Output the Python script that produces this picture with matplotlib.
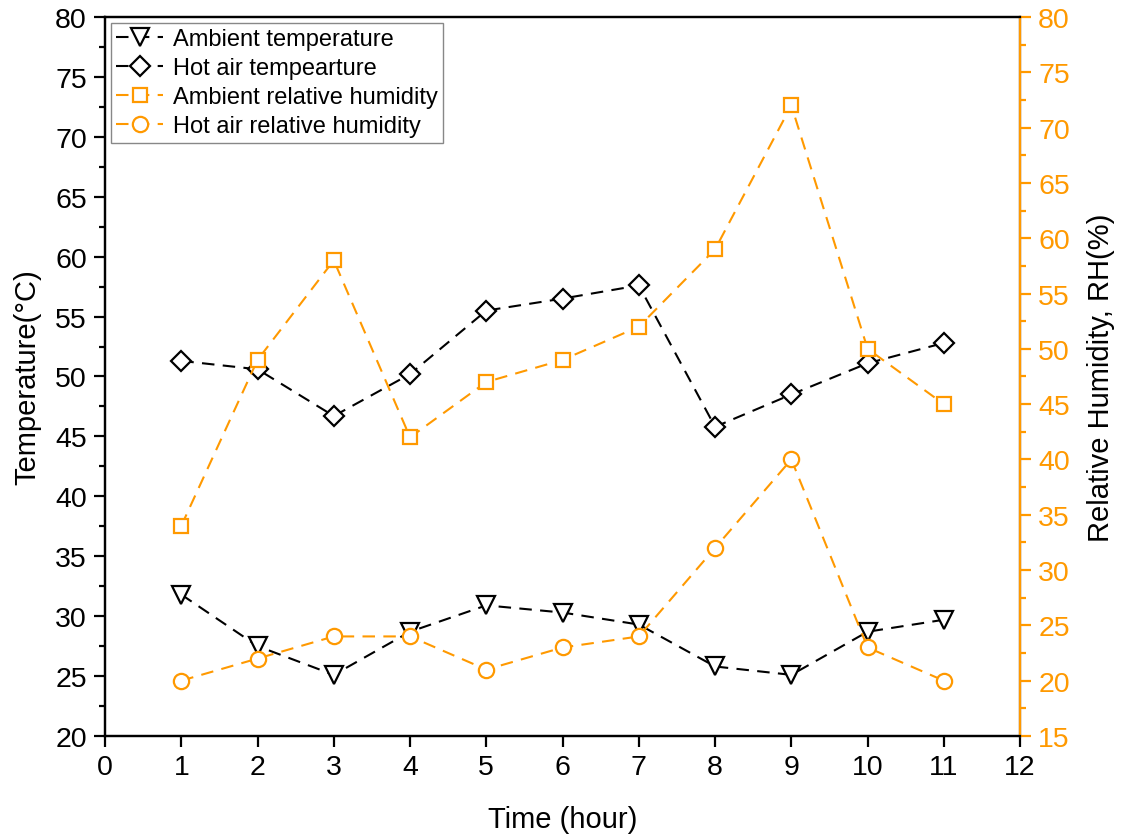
import matplotlib
matplotlib.use("Agg")
import matplotlib.pyplot as plt
from matplotlib.ticker import MultipleLocator

plt.rcParams['font.family'] = ['Liberation Sans', 'DejaVu Sans']

hours = [1, 2, 3, 4, 5, 6, 7, 8, 9, 10, 11]
ambient_temp = [31.8, 27.5, 25.1, 28.7, 30.9, 30.3, 29.3, 25.8, 25.1, 28.7, 29.7]
hot_air_temp = [51.3, 50.6, 46.7, 50.2, 55.5, 56.5, 57.6, 45.8, 48.5, 51.1, 52.8]
ambient_rh = [34, 49, 58, 42, 47, 49, 52, 59, 72, 50, 45]
hot_air_rh = [20, 22, 24, 24, 21, 23, 24, 32, 40, 23, 20]

ORANGE = '#FF9900'
BLACK = '#000000'

fig = plt.figure(figsize=(11.21, 8.37), dpi=100)
ax = fig.add_axes([0.0937, 0.1195, 0.8163, 0.859])
ax2 = ax.twinx()

dash = (6, 4)
l1, = ax.plot(hours, ambient_temp, color=BLACK, lw=1.5, dashes=dash, marker='v',
              ms=13, mfc='white', mec=BLACK, mew=1.6, label='Ambient temperature')
l2, = ax.plot(hours, hot_air_temp, color=BLACK, lw=1.5, dashes=dash, marker='D',
              ms=10, mfc='white', mec=BLACK, mew=1.6, label='Hot air tempearture')
l3, = ax2.plot(hours, ambient_rh, color=ORANGE, lw=1.5, dashes=dash, marker='s',
               ms=10.5, mfc='white', mec=ORANGE, mew=1.6, label='Ambient relative humidity')
l4, = ax2.plot(hours, hot_air_rh, color=ORANGE, lw=1.5, dashes=dash, marker='o',
               ms=11, mfc='white', mec=ORANGE, mew=1.6, label='Hot air relative humidity')

ax.set_xlim(0, 12)
ax.set_ylim(20, 80)
ax2.set_ylim(15, 80)
ax.xaxis.set_major_locator(MultipleLocator(1))
ax.yaxis.set_major_locator(MultipleLocator(5))
ax.yaxis.set_minor_locator(MultipleLocator(2.5))
ax2.yaxis.set_major_locator(MultipleLocator(5))
ax2.yaxis.set_minor_locator(MultipleLocator(2.5))

for a in (ax, ax2):
    for s in a.spines.values():
        s.set_linewidth(1.6)
        s.set_color(BLACK)
ax2.spines['right'].set_color(ORANGE)

ax.tick_params(axis='both', which='major', direction='out', length=8, width=1.6,
               labelsize=20.5, colors=BLACK, pad=5)
ax.tick_params(axis='y', which='minor', direction='out', length=4.5, width=1.6, colors=BLACK)
ax.tick_params(axis='x', top=False)
ax2.tick_params(axis='y', which='major', direction='out', length=8, width=1.6,
                labelsize=20.5, colors=ORANGE, pad=5)
ax2.tick_params(axis='y', which='minor', direction='out', length=4.5, width=1.6, colors=ORANGE)

ax.set_xlabel('Time (hour)', fontsize=21, labelpad=18)
ax.set_ylabel('Temperature(°C)', fontsize=21, labelpad=10)
ax2.set_ylabel('Relative Humidity, RH(%)', fontsize=21, labelpad=12, color=BLACK)

leg = ax.legend(handles=[l1, l2, l3, l4], loc='upper left', fontsize=17,
                frameon=True, fancybox=False, edgecolor='#888888', framealpha=1,
                handlelength=2.0, handletextpad=0.4, borderpad=0.22,
                labelspacing=0.3, borderaxespad=0.25)
leg.get_frame().set_linewidth(1.0)
leg.set_zorder(10)

fig.savefig('out.png', dpi=100)
